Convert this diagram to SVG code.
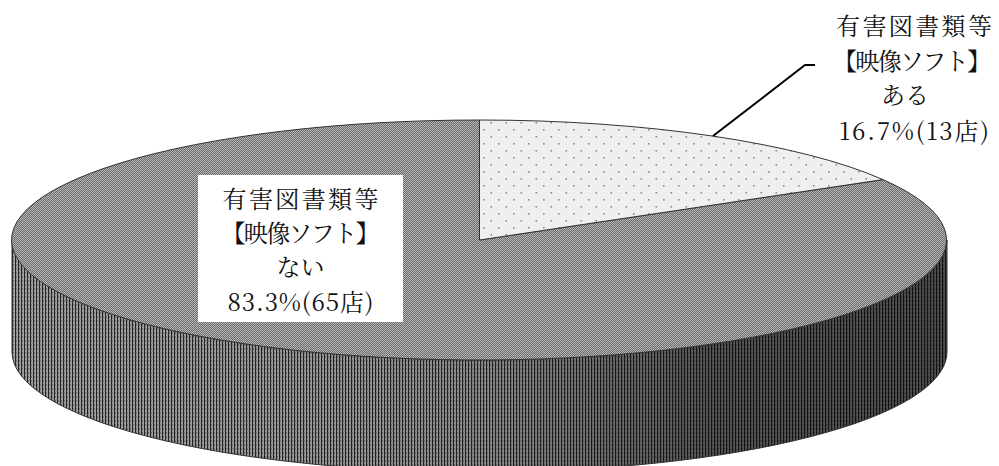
<svg xmlns="http://www.w3.org/2000/svg" width="999" height="466" viewBox="0 0 999 466">
<style>
.lbl{font-family:"Noto Serif CJK JP","Noto Sans CJK JP",serif;font-size:24px;fill:#111;text-anchor:middle}
.edge{stroke:#333;stroke-width:1;stroke-linejoin:round}
</style>
<defs>
<pattern id="topPat" width="2" height="2" patternUnits="userSpaceOnUse">
<rect width="2" height="2" fill="#6c6c6c"/>
<rect x="0" y="0" width="1" height="1" fill="#b6b6b6"/>
<rect x="1" y="1" width="1" height="1" fill="#b6b6b6"/>
</pattern>
<pattern id="dots" width="15" height="14" patternUnits="userSpaceOnUse">
<rect width="15" height="14" fill="#efefef"/>
<rect x="3" y="3" width="1.6" height="1.6" fill="#8a8a8a"/>
<rect x="10.5" y="10" width="1.6" height="1.6" fill="#8a8a8a"/>
</pattern>
<pattern id="stripes" width="3" height="4" patternUnits="userSpaceOnUse">
<rect width="3" height="4" fill="#a8a8a8"/>
<rect x="0" y="0" width="1" height="4" fill="#262626"/>
<rect x="1" y="0" width="1" height="2" fill="#7a7a7a"/>
</pattern>
<linearGradient id="shade" x1="12" y1="0" x2="947" y2="0" gradientUnits="userSpaceOnUse">
<stop offset="0" stop-color="#000" stop-opacity="0.05"/>
<stop offset="0.3" stop-color="#000" stop-opacity="0.1"/>
<stop offset="0.5" stop-color="#000" stop-opacity="0.18"/>
<stop offset="0.75" stop-color="#000" stop-opacity="0.5"/>
<stop offset="1" stop-color="#000" stop-opacity="0.55"/>
</linearGradient>
</defs>
<g id="pie-side">
<path d="M12,240 A467.5,120 0 0 0 947,240 L947,352 A467.5,120 0 0 1 12,352 Z" fill="url(#stripes)"/>
<path class="edge" d="M12,240 A467.5,120 0 0 0 947,240 L947,352 A467.5,120 0 0 1 12,352 Z" fill="url(#shade)"/>
</g>
<g id="slice-nai">
<path class="edge" d="M479.5,240 L479.5,120 A467.5,120 0 1 0 883,179.6 Z" fill="url(#topPat)"/>
</g>
<g id="slice-aru">
<path class="edge" d="M479.5,240 L479.5,120 A467.5,120 0 0 1 883,179.6 Z" fill="url(#dots)"/>
</g>
<g id="connectors">
<polyline points="713,136 805,65 815,65" fill="none" stroke="#000" stroke-width="2"/>
</g>
<g id="label-nai">
<rect x="198" y="175" width="205" height="147" fill="#fff"/>
<text class="lbl" x="300.5" y="208" textLength="156" lengthAdjust="spacing">有害図書類等</text>
<text class="lbl" x="300.5" y="242" textLength="158" lengthAdjust="spacing">【映像ソフト】</text>
<text class="lbl" x="300.5" y="276">ない</text>
<text class="lbl" x="300.5" y="311" textLength="146" lengthAdjust="spacing">83.3%(65店)</text>
</g>
<g id="label-aru">
<text class="lbl" x="914" y="35" textLength="156" lengthAdjust="spacing">有害図書類等</text>
<text class="lbl" x="912" y="70" textLength="158" lengthAdjust="spacing">【映像ソフト】</text>
<text class="lbl" x="905" y="104">ある</text>
<text class="lbl" x="914" y="140" textLength="150" lengthAdjust="spacing">16.7%(13店)</text>
</g>
</svg>
